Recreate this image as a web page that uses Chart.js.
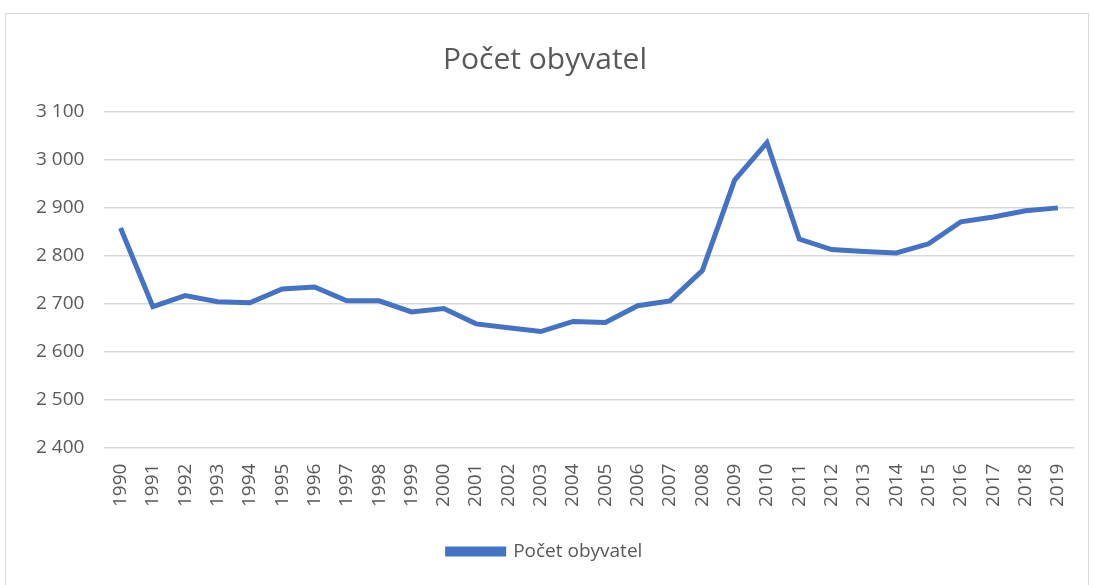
<!DOCTYPE html>
<html>
<head>
<meta charset="utf-8">
<script src="https://cdn.jsdelivr.net/npm/chart.js@4"></script>
<style>
  html, body { margin: 0; padding: 0; background: #fff; }
  #box {
    position: absolute; left: 5px; top: 13px; width: 1084px; height: 575px;
    border: 1px solid #d9d9d9; box-sizing: border-box;
  }
  #wrap { position: absolute; left: 0; top: 0; width: 1093px; height: 585px; }
</style>
</head>
<body>
<div id="box"></div>
<div id="wrap"><canvas id="chart"></canvas></div>
<script>
// data
const years = ['1990', '1991', '1992', '1993', '1994', '1995', '1996', '1997', '1998', '1999',
  '2000', '2001', '2002', '2003', '2004', '2005', '2006', '2007', '2008', '2009',
  '2010', '2011', '2012', '2013', '2014', '2015', '2016', '2017', '2018', '2019'];
const population = [2858, 2694, 2717, 2704, 2702, 2731, 2735, 2706, 2706, 2683,
  2690, 2658, 2650, 2642, 2663, 2661, 2696, 2706, 2769, 2958,
  3036, 2835, 2813, 2809, 2806, 2825, 2871, 2881, 2894, 2900];
const seriesName = 'Počet obyvatel';
const chartTitle = 'Počet obyvatel';

const grey = '#595959';
const blue = '#4472C4';
const fontFamily = "'Open Sans', 'Noto Sans', sans-serif";

function fmt(v) {
  // mezera jako oddělovač tisíců
  return String(v).replace(/\B(?=(\d{3})+(?!\d))/g, ' ');
}

new Chart(document.getElementById('chart'), {
  type: 'line',
  data: {
    labels: years,
    datasets: [{
      label: seriesName,
      data: population,
      borderColor: blue,
      backgroundColor: blue,
      borderWidth: 5,
      pointRadius: 0,
      tension: 0
    }]
  },
  options: {
    responsive: true,
    maintainAspectRatio: false,
    animation: false,
    layout: { padding: { left: 16, right: 19, top: 22, bottom: 14 } },
    plugins: {
      title: {
        display: true,
        text: chartTitle,
        color: grey,
        font: { family: fontFamily, size: 30, weight: 'normal' },
        padding: { top: 20, bottom: 34 }
      },
      legend: {
        position: 'bottom',
        labels: {
          color: grey,
          font: { family: fontFamily, size: 19 },
          boxWidth: 56,
          boxHeight: 5,
          padding: 12
        }
      },
      tooltip: { enabled: false }
    },
    scales: {
      x: {
        offset: true,
        grid: { display: false },
        border: { display: false },
        afterFit: (scale) => { scale.height += 15; },
        ticks: {
          color: grey,
          font: { family: fontFamily, size: 19 },
          minRotation: 90,
          maxRotation: 90,
          autoSkip: false,
          padding: 8
        }
      },
      y: {
        min: 2400,
        max: 3100,
        grid: { color: '#d9d9d9', lineWidth: 1.5, drawTicks: false },
        border: { display: false },
        ticks: {
          stepSize: 100,
          color: grey,
          font: { family: fontFamily, size: 19 },
          padding: 20,
          callback: (v) => fmt(v)
        }
      }
    }
  }
});
</script>
</body>
</html>
